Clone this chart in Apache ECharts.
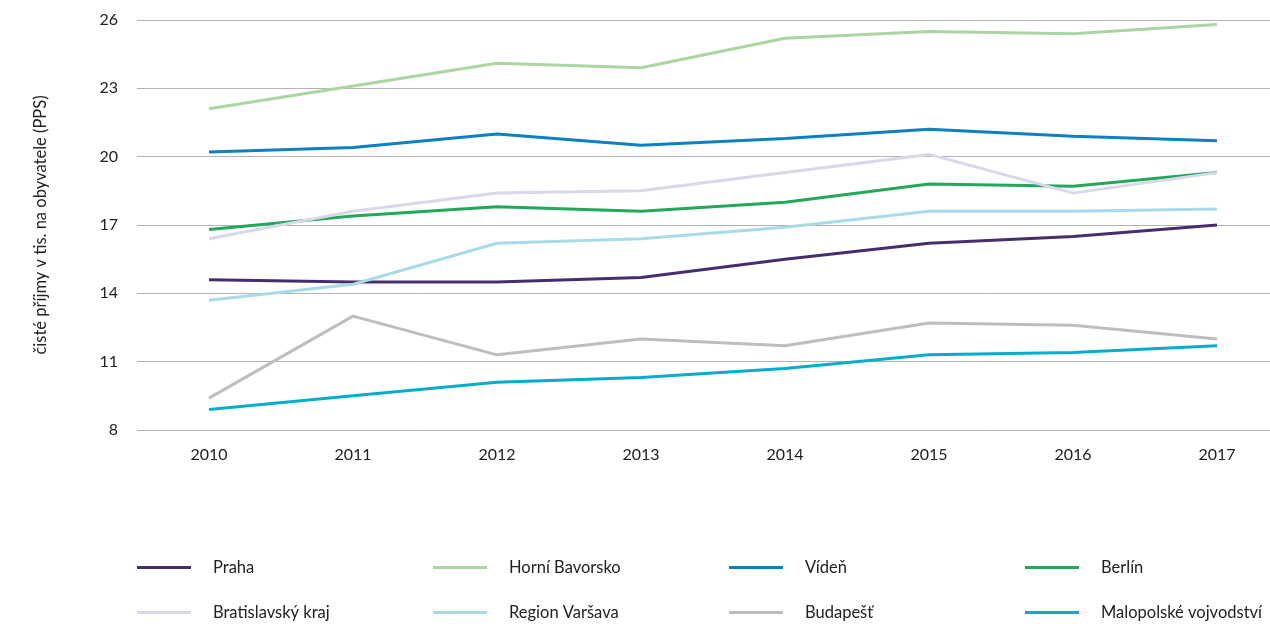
<!DOCTYPE html>
<html>
<head>
<meta charset="utf-8">
<script src="https://cdn.jsdelivr.net/npm/echarts@6/dist/echarts.min.js"></script>
<style>
  html, body { margin: 0; padding: 0; background: #fff; }
  #chart { width: 1270px; height: 624px; }
</style>
</head>
<body>
<div id="chart"></div>
<script>
// Roky
const years = ['2010', '2011', '2012', '2013', '2014', '2015', '2016', '2017'];

// Čisté příjmy v tis. na obyvatele (PPS)
const praha        = [14.6, 14.5, 14.5, 14.7, 15.5, 16.2, 16.5, 17.0];
const horniBavorsko = [22.1, 23.1, 24.1, 23.9, 25.2, 25.5, 25.4, 25.8];
const viden        = [20.2, 20.4, 21.0, 20.5, 20.8, 21.2, 20.9, 20.7];
const berlin       = [16.8, 17.4, 17.8, 17.6, 18.0, 18.8, 18.7, 19.3];
const bratislava   = [16.4, 17.6, 18.4, 18.5, 19.3, 20.1, 18.4, 19.3];
const varsava      = [13.7, 14.4, 16.2, 16.4, 16.9, 17.6, 17.6, 17.7];
const budapest     = [9.4, 13.0, 11.3, 12.0, 11.7, 12.7, 12.6, 12.0];
const malopolska   = [8.9, 9.5, 10.1, 10.3, 10.7, 11.3, 11.4, 11.7];

const yTicks = [8, 11, 14, 17, 20, 23, 26];

const seriesDefs = [
  { name: 'Praha', data: praha, color: '#472c6e' },
  { name: 'Horní Bavorsko', data: horniBavorsko, color: '#abd6a1' },
  { name: 'Vídeň', data: viden, color: '#0b80c3' },
  { name: 'Berlín', data: berlin, color: '#23a75b' },
  { name: 'Bratislavský kraj', data: bratislava, color: '#dad6ec' },
  { name: 'Region Varšava', data: varsava, color: '#a8dbe7' },
  { name: 'Budapešť', data: budapest, color: '#bebebe' },
  { name: 'Malopolské vojvodství', data: malopolska, color: '#04aecb' }
];

const FONT = 'Lato';
const colX = [137, 433, 729, 1025];
const rowY = [559, 604];

// One legend block per item, laid out in a 4x2 grid
const legends = seriesDefs.map((s, i) => ({
  data: [s.name],
  left: colX[i % 4],
  top: rowY[Math.floor(i / 4)],
  padding: 0,
  icon: 'rect',
  itemWidth: 54,
  itemHeight: 3,
  selectedMode: false,
  textStyle: {
    fontFamily: FONT,
    fontSize: 16.5,
    color: '#222',
    padding: [0, 0, 0, 17]
  }
}));

const chart = echarts.init(document.getElementById('chart'), null, { renderer: 'canvas' });
chart.setOption({
  animation: false,
  backgroundColor: '#fff',
  // plot band runs past the right edge of the canvas
  grid: { left: 137, width: 1152, top: 20, height: 410, outerBoundsMode: 'none', containLabel: false },
  legend: legends,
  xAxis: {
    type: 'category',
    data: years,
    boundaryGap: true,
    axisLine: { show: false },
    axisTick: { show: false },
    axisLabel: { fontFamily: FONT, fontSize: 16, color: '#222', margin: 17 }
  },
  yAxis: {
    type: 'value',
    min: yTicks[0],
    max: yTicks[yTicks.length - 1],
    interval: 3,
    name: 'čisté příjmy v tis. na obyvatele (PPS)',
    nameLocation: 'middle',
    nameRotate: 90,
    nameGap: 88,
    nameTextStyle: { fontFamily: FONT, fontSize: 16.5, color: '#222' },
    axisLine: { show: false },
    axisTick: { show: false },
    axisLabel: { fontFamily: FONT, fontSize: 16, color: '#222', margin: 19 },
    splitLine: { lineStyle: { color: '#b3b3b3', width: 1 } }
  },
  series: seriesDefs.map(s => ({
    name: s.name,
    type: 'line',
    data: s.data,
    symbol: 'none',
    color: s.color,
    lineStyle: { color: s.color, width: 3 }
  }))
});
</script>
</body>
</html>
